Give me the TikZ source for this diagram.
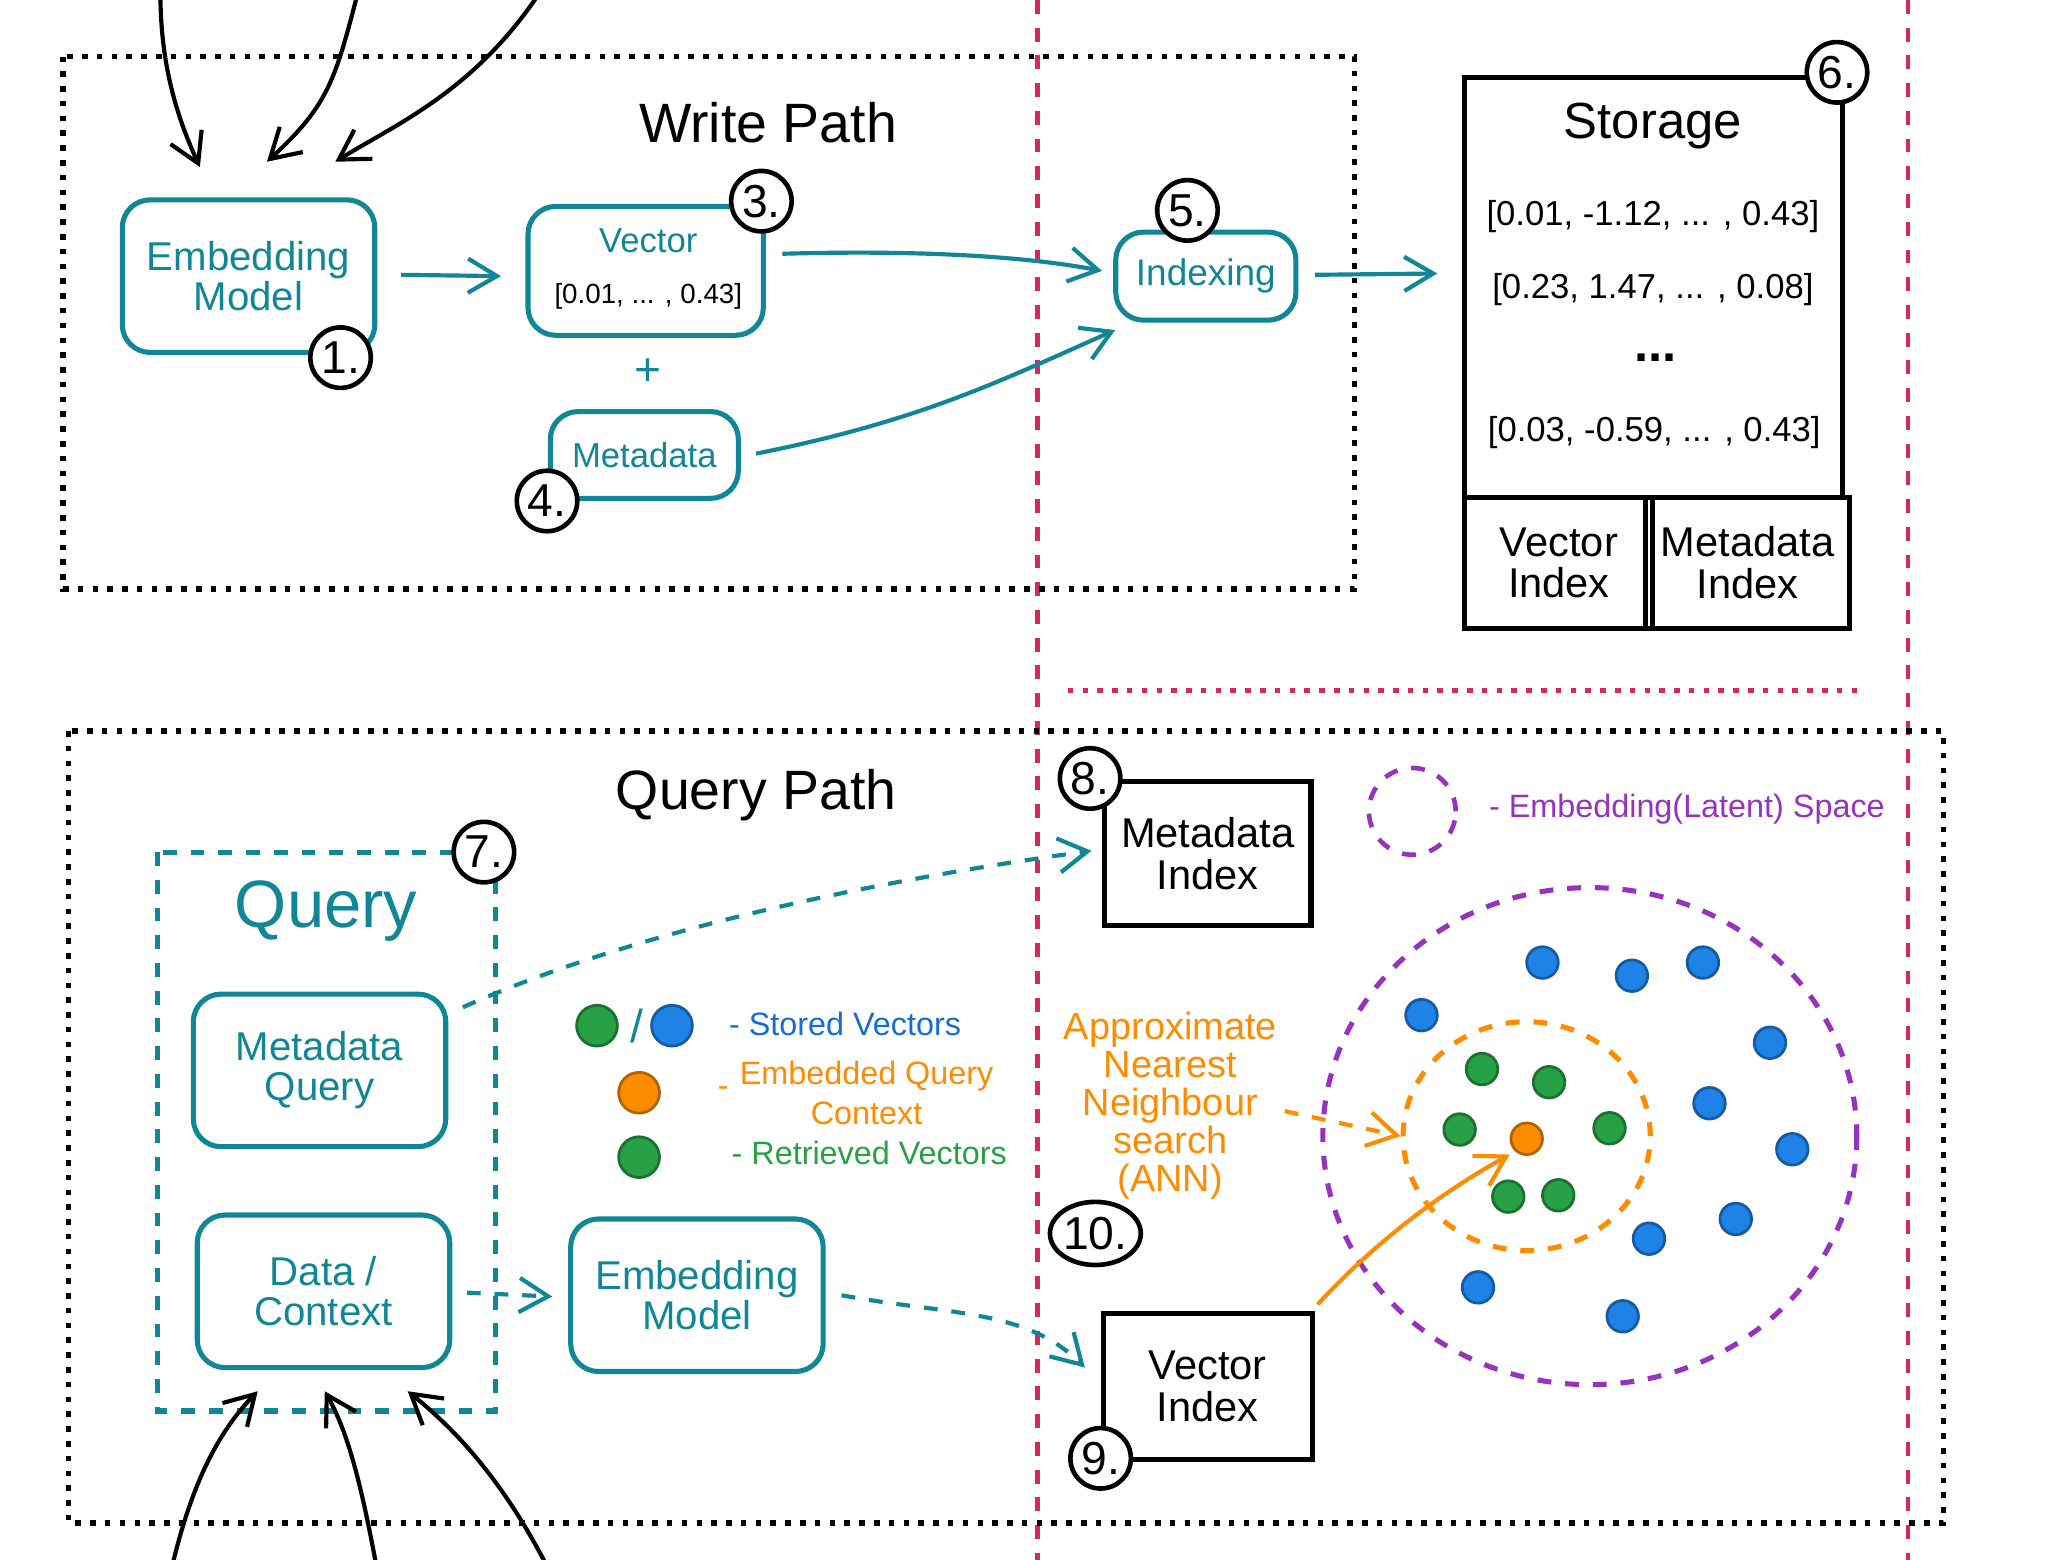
\documentclass[tikz,border=0pt]{standalone}
\usepackage{fontspec}
\setmainfont{Liberation Sans}
\usetikzlibrary{arrows.meta,shapes.geometric}
\definecolor{teal1}{RGB}{16,134,150}
\definecolor{red1}{RGB}{214,40,90}
\definecolor{purp}{RGB}{150,50,190}
\definecolor{oran}{RGB}{255,140,0}
\definecolor{bdot}{RGB}{30,130,230}
\definecolor{gdot}{RGB}{40,160,70}
\definecolor{btxt}{RGB}{20,110,210}
\begin{document}
\begin{tikzpicture}[x=0.1mm,y=-0.1mm,
  fs/.style={font=\fontsize{#1}{#1}\selectfont},
  tbox/.style={draw=teal1,line width=1.1pt,rounded corners=6pt,text=teal1,align=center,fs=8.7},
  bbox/.style={draw=black,line width=1.1pt,align=center,fs=9},
  num/.style={circle,draw=black,fill=white,line width=1pt,minimum size=4.6mm,inner sep=0pt,fs=10},
  arr/.style={-{Straight Barb[length=2.2mm,width=2.6mm]},line width=0.9pt},
  tarr/.style={arr,teal1},
  dotr/.style={dotted,line width=1.2pt},
  dot/.style={circle,inner sep=0pt,minimum size=2.4mm,fill=#1,draw=#1!70!black,line width=0.6pt}]
\useasboundingbox (0,0) rectangle (1562,1186);
% red separators
\draw[red1,dashed,line width=1pt] (789,0) -- (789,1186);
\draw[red1,dashed,line width=1pt] (1451,0) -- (1451,1186);
\draw[red1,dotted,line width=1.2pt] (812,525) -- (1413,525);
% write path
\draw[dotr] (48,43) rectangle (1030,448);
\node[fs=12] (wp) at (584,93) {Write Path};
\node[tbox,minimum width=19.2mm,minimum height=11.6mm] (em1) at (189,210) {Embedding\\Model};
\node[num] (n1) at (259,272) {1.};
\node[tbox,minimum width=17.9mm,minimum height=9.8mm] (vec) at (491,206) {};
\node[text=teal1,fs=7.5] (vt) at (493,183) {Vector};
\node[fs=6] (vv) at (493,225) {[0.01, ... , 0.43]};
\node[num] (n3) at (579,153) {3.};
\node[text=teal1,fs=10] (plus) at (493,283) {+};
\node[tbox,minimum width=14.3mm,minimum height=6.6mm,fs=7.5] (meta) at (490,346) {Metadata};
\node[num] (n4) at (416,381) {4.};
\node[tbox,minimum width=13.7mm,minimum height=6.7mm,fs=8] (idx) at (917,210) {Indexing};
\node[num] (n5) at (903,160) {5.};
\coordinate (a1) at (305,209); \coordinate (a2) at (381,210);
\draw[tarr] (a1) -- (a2);
\coordinate (b1) at (595,193); \coordinate (b2) at (838,206);
\draw[tarr] (b1) .. controls (700,190) and (780,195) .. (b2);
\coordinate (c1) at (575,345); \coordinate (c2) at (848,251);
\draw[tarr] (c1) .. controls (700,320) and (760,290) .. (c2);
\coordinate (d1) at (1000,209); \coordinate (d2) at (1093,208);
\draw[tarr] (d1) -- (d2);
% storage
\node[draw,line width=1.1pt,minimum width=28.7mm,minimum height=31.9mm] (st) at (1257.5,218.5) {};
\node[bbox,minimum width=14.3mm,minimum height=10mm] (svi) at (1185.5,428) {Vector\\Index};
\node[bbox,minimum width=14.4mm,minimum height=10mm] (smi) at (1329,428) {Metadata\\Index};
\node[num] (n6) at (1397,55) {6.};
\node[fs=11] (stt) at (1257,96) {Storage};
\node[fs=7.5] (s1) at (1257,165) {[0.01, -1.12, ... , 0.43]};
\node[fs=7.5] (s2) at (1257,220) {[0.23, 1.47, ... , 0.08]};
\node[fs=11] (s3) at (1259,272) {\textbf{...}};
\node[fs=7.5] (s4) at (1258,329) {[0.03, -0.59, ... , 0.43]};
% top arrows
\coordinate (t1) at (122,-5); \coordinate (t1e) at (152,127);
\coordinate (t2) at (272,-5); \coordinate (t2e) at (203,123);
\coordinate (t3) at (410,-5); \coordinate (t3e) at (255,123);
\draw[arr] (t1) .. controls (122,50) and (135,90) .. (t1e);
\draw[arr] (t2) .. controls (255,60) and (250,80) .. (t2e);
\draw[arr] (t3) .. controls (360,70) and (300,95) .. (t3e);
% query path
\draw[dotr] (52,556) rectangle (1478,1158);
\node[fs=12] (qp) at (575,605) {Query Path};
\draw[teal1,dashed,line width=1.1pt] (120,648) rectangle (377,1073);
\node[text=teal1,fs=14.5] (q) at (248,693) {Query};
\node[num] (n7) at (368,648) {7.};
\node[tbox,minimum width=19.2mm,minimum height=11.6mm] (mq) at (243,814) {Metadata\\Query};
\node[tbox,minimum width=19.2mm,minimum height=11.6mm] (dc) at (246,982) {Data /\\Context};
\node[tbox,minimum width=19.2mm,minimum height=11.6mm] (em2) at (530,985) {Embedding\\Model};
\node[bbox,minimum width=15.7mm,minimum height=11mm] (mi) at (918.5,649) {Metadata\\Index};
\node[num] (n8) at (829,592) {8.};
\node[bbox,minimum width=15.9mm,minimum height=11.1mm] (vi) at (918.5,1054.5) {Vector\\Index};
\node[num] (n9) at (837,1109) {9.};
\node[ellipse,draw,line width=1pt,fill=white,minimum width=6.4mm,minimum height=4.8mm,inner sep=0pt,fs=10] (n10) at (833,938) {10.};
\coordinate (e1) at (352,766); \coordinate (e2) at (830,647);
\draw[tarr,dashed] (e1) .. controls (500,700) and (700,665) .. (e2);
\coordinate (f1) at (355,983); \coordinate (f2) at (420,986);
\draw[tarr,dashed] (f1) -- (f2);
\coordinate (g1) at (640,985); \coordinate (g2) at (825,1040);
\draw[tarr,dashed] (g1) .. controls (720,1000) and (780,995) .. (g2);
% legend
\node[dot=gdot,minimum size=3.1mm] (l1) at (454,780) {};
\node[text=teal1,fs=10] (ls) at (484,780) {/};
\node[dot=bdot,minimum size=3.1mm] (l2) at (511,780) {};
\node[text=btxt,anchor=west,fs=7] (lt1) at (542,779) {- Stored Vectors};
\node[dot=oran,minimum size=3.1mm] (l3) at (486,831) {};
\node[text=oran,fs=7] (lt2a) at (550,830) {-};
\node[text=oran,align=center,font=\fontsize{7}{8.6}\selectfont,inner sep=1pt] (lt2) at (659,831) {Embedded Query\\Context};
\node[dot=gdot,minimum size=3.1mm] (l4) at (486,880) {};
\node[text=gdot,anchor=west,fs=7] (lt3) at (544,877) {- Retrieved Vectors};
\node[circle,draw=purp,dashed,line width=1pt,minimum size=6.6mm] (lp) at (1074,617) {};
\node[text=purp,anchor=west,fs=7] (lpt) at (1120,615) {- Embedding(Latent) Space};
% latent space
\draw[purp,dashed,line width=1.1pt] (1209,864) ellipse [x radius=203,y radius=189];
\node[ellipse,draw=oran,dashed,line width=1.1pt,minimum width=18.8mm,minimum height=17.4mm] (oc) at (1161,864) {};
\node[text=oran,align=center,fs=8.2] (ann) at (890,841) {Approximate\\Nearest\\Neighbour\\search\\(ANN)};
\coordinate (h1) at (977,845);
\draw[arr,oran,dashed] (h1) -- (oc.west);
\node[dot=oran] (qd) at (1161,866) {};
\coordinate (i1) at (1002,992);
\draw[arr,oran] (i1) .. controls (1050,940) and (1100,905) .. (1148,878);
\foreach \p in {(1173,732),(1241,742),(1295,732),(1081,772),(1346,793),(1300,839),(1363,874),(1320,927),(1254,942),(1124,979),(1234,1001)}
  \node[dot=bdot] at \p {};
\foreach \p in {(1127,813),(1178,823),(1110,859),(1224,858),(1147,910),(1185,909)}
  \node[dot=gdot] at \p {};
% bottom arrows
\coordinate (u1) at (130,1195); \coordinate (u1e) at (196,1058);
\coordinate (u2) at (287,1195); \coordinate (u2e) at (247,1058);
\coordinate (u3) at (418,1195); \coordinate (u3e) at (310,1058);
\draw[arr] (u1) .. controls (145,1130) and (165,1090) .. (u1e);
\draw[arr] (u2) .. controls (275,1130) and (265,1090) .. (u2e);
\draw[arr] (u3) .. controls (385,1130) and (350,1090) .. (u3e);
\end{tikzpicture}
\end{document}
